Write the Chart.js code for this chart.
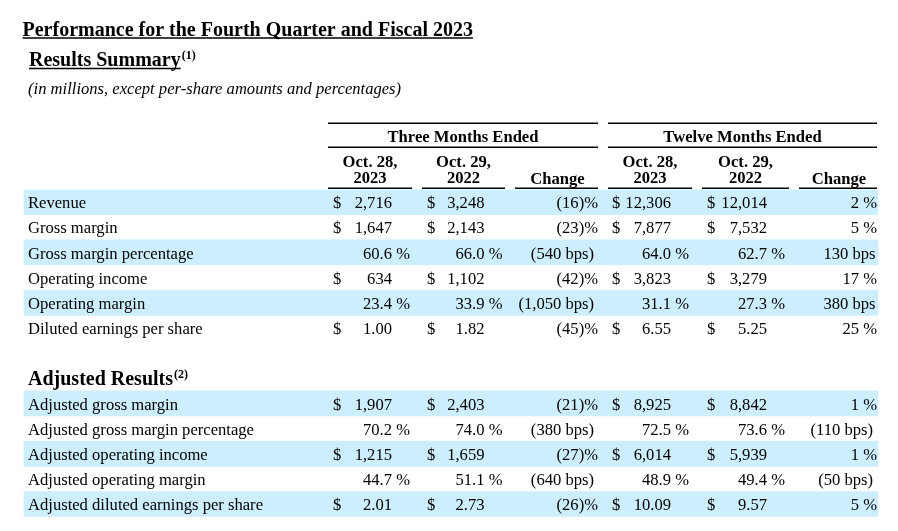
<!DOCTYPE html>
<html><head><meta charset="utf-8">
<script src="https://cdn.jsdelivr.net/npm/chart.js@4.4.0/dist/chart.umd.min.js"></script>
<style>html,body{margin:0;padding:0;background:#fff;overflow:hidden}canvas{display:block}</style>
</head><body>
<canvas id="c" width="898" height="531"></canvas>
<script>
// ---- data ----
const rowLabels = ['Revenue','Gross margin','Gross margin percentage','Operating income','Operating margin','Diluted earnings per share','','Adjusted Results','Adjusted gross margin','Adjusted gross margin percentage','Adjusted operating income','Adjusted operating margin','Adjusted diluted earnings per share'];
const rowKinds = ['usd','usd','pct','usd','pct','eps',null,'heading','usd','pct','usd','pct','eps'];
const rowShaded = [true,false,true,false,true,false,false,false,true,false,true,false,true];
const q4FY2023 = [2716,1647,60.6,634,23.4,1.00,null,null,1907,70.2,1215,44.7,2.01];
const q4FY2022 = [3248,2143,66.0,1102,33.9,1.82,null,null,2403,74.0,1659,51.1,2.73];
const q4Change = [-16,-23,-540,-42,-1050,-45,null,null,-21,-380,-27,-640,-26];
const fy2023 = [12306,7877,64.0,3823,31.1,6.55,null,null,8925,72.5,6014,48.9,10.09];
const fy2022 = [12014,7532,62.7,3279,27.3,5.25,null,null,8842,73.6,5939,49.4,9.57];
const fyChange = [2,5,130,17,380,25,null,null,1,-110,1,-50,5];
const groupHeaders = ['Three Months Ended','Twelve Months Ended'];
const colHeaders = [['Oct. 28,','2023'],['Oct. 29,','2022'],['Change'],['Oct. 28,','2023'],['Oct. 29,','2022'],['Change']];
const titleText = 'Performance for the Fourth Quarter and Fiscal 2023';
const summaryText = 'Results Summary';
const noteText = '(in millions, except per-share amounts and percentages)';

// ---- layout ----
const SERIF = '"Liberation Serif","Times New Roman",serif';
const FS = 16.6;
const BAND_L = 24, BAND_R = 878;
const LABEL_X = 28;
const numRight = [392, 484.5, 598, 671, 767, 877];
const dollarLeft = [333, 427, null, 612, 707, null];
const colLine = [[328,412],[422,505],[515,598],[608,692],[702,789],[799,877]];
const groupLine = [[328,598],[608,877]];

function fmtVal(v, kind){
  if (kind === 'eps') return v.toFixed(2);
  if (kind === 'pct') return v.toFixed(1);
  return v.toLocaleString('en-US');
}
function fmtChange(v, kind){
  if (kind === 'pct') return v < 0 ? '(' + Math.abs(v).toLocaleString('en-US') + ' bps)' : v.toLocaleString('en-US') + ' bps';
  return v < 0 ? '(' + Math.abs(v) + ')%' : v + ' %';
}

const tablePlugin = {
  id: 'tableText',
  afterDatasetsDraw(chart){
    const ctx = chart.ctx, ys = chart.scales.y;
    ctx.save();
    ctx.fillStyle = '#000';
    ctx.strokeStyle = '#000';
    ctx.textBaseline = 'alphabetic';
    // titles
    ctx.font = 'bold 20px ' + SERIF;
    ctx.textAlign = 'left';
    ctx.fillText(titleText, 22.5, 35.5);
    let w = ctx.measureText(titleText).width;
    ctx.lineWidth = 1.4;
    ctx.beginPath(); ctx.moveTo(22.5, 38); ctx.lineTo(22.5 + w, 38); ctx.stroke();
    ctx.fillText(summaryText, 29, 66);
    w = ctx.measureText(summaryText).width;
    ctx.beginPath(); ctx.moveTo(29, 68.5); ctx.lineTo(29 + w, 68.5); ctx.stroke();
    ctx.font = 'bold 12px ' + SERIF;
    ctx.fillText('(1)', 29 + w + 1, 59);
    ctx.font = 'italic ' + FS + 'px ' + SERIF;
    ctx.fillText(noteText, 28, 94);
    // header
    ctx.lineWidth = 1.6;
    ctx.font = 'bold ' + FS + 'px ' + SERIF;
    ctx.textAlign = 'center';
    groupLine.forEach((g, i) => {
      ctx.beginPath(); ctx.moveTo(g[0], 123.3); ctx.lineTo(g[1], 123.3); ctx.stroke();
      ctx.beginPath(); ctx.moveTo(g[0], 147.3); ctx.lineTo(g[1], 147.3); ctx.stroke();
      ctx.fillText(groupHeaders[i], (g[0] + g[1]) / 2, 142.3);
    });
    colLine.forEach((c, i) => {
      ctx.beginPath(); ctx.moveTo(c[0], 188.3); ctx.lineTo(c[1], 188.3); ctx.stroke();
      const cx = (c[0] + c[1]) / 2 + (colHeaders[i].length === 1 ? 1 : 0);
      const lines = colHeaders[i];
      if (lines.length === 2) {
        ctx.fillText(lines[0], cx, 167.3);
        ctx.fillText(lines[1], cx, 183.3);
      } else {
        ctx.fillText(lines[0], cx, 184.3);
      }
    });
    // rows
    const cols = [q4FY2023, q4FY2022, q4Change, fy2023, fy2022, fyChange];
    rowLabels.forEach((lab, r) => {
      const yc = ys.getPixelForValue(r);
      const yb = yc + 6.1;
      const kind = rowKinds[r];
      if (!lab) return;
      ctx.textAlign = 'left';
      if (kind === 'heading') {
        ctx.font = 'bold 20px ' + SERIF;
        ctx.fillText(lab, LABEL_X, yb + 0.5);
        const hw = ctx.measureText(lab).width;
        ctx.font = 'bold 12px ' + SERIF;
        ctx.fillText('(2)', LABEL_X + hw + 1, yb - 6.5);
        return;
      }
      ctx.font = FS + 'px ' + SERIF;
      ctx.fillText(lab, LABEL_X, yb);
      cols.forEach((arr, c) => {
        const v = arr[r];
        if (v === null || v === undefined) return;
        if (c === 2 || c === 5) {
          const s = fmtChange(v, kind);
          let off = 0;
          if (kind === 'pct') off = v < 0 ? 4 : 1.5;
          ctx.textAlign = 'right';
          ctx.fillText(s, numRight[c] - off, yb);
          return;
        }
        if (kind !== 'pct' && (r === 0 || kind === 'usd' || kind === 'eps')) {
          if (kind !== 'pct') { ctx.textAlign = 'left'; ctx.fillText('$', dollarLeft[c], yb); }
        }
        ctx.textAlign = 'right';
        ctx.fillText(fmtVal(v, kind), numRight[c], yb);
        if (kind === 'pct') { ctx.textAlign = 'left'; ctx.fillText(' %', numRight[c], yb); }
      });
    });
    ctx.restore();
  }
};

new Chart(document.getElementById('c'), {
  type: 'bar',
  data: {
    labels: rowLabels,
    datasets: [{
      data: rowLabels.map((_, i) => rowShaded[i] ? [BAND_L, BAND_R] : null),
      backgroundColor: '#cdeefd',
      borderWidth: 0,
      barPercentage: 1.0,
      categoryPercentage: 1.0
    }]
  },
  options: {
    indexAxis: 'y',
    responsive: false,
    animation: false,
    layout: { padding: { top: 189.5, bottom: 14.3, left: 0, right: 0 } },
    scales: {
      x: { type: 'linear', min: 0, max: 898, display: false },
      y: { type: 'category', display: false, offset: true }
    },
    plugins: { legend: { display: false }, tooltip: { enabled: false }, title: { display: false } }
  },
  plugins: [tablePlugin]
});
</script>
</body></html>
